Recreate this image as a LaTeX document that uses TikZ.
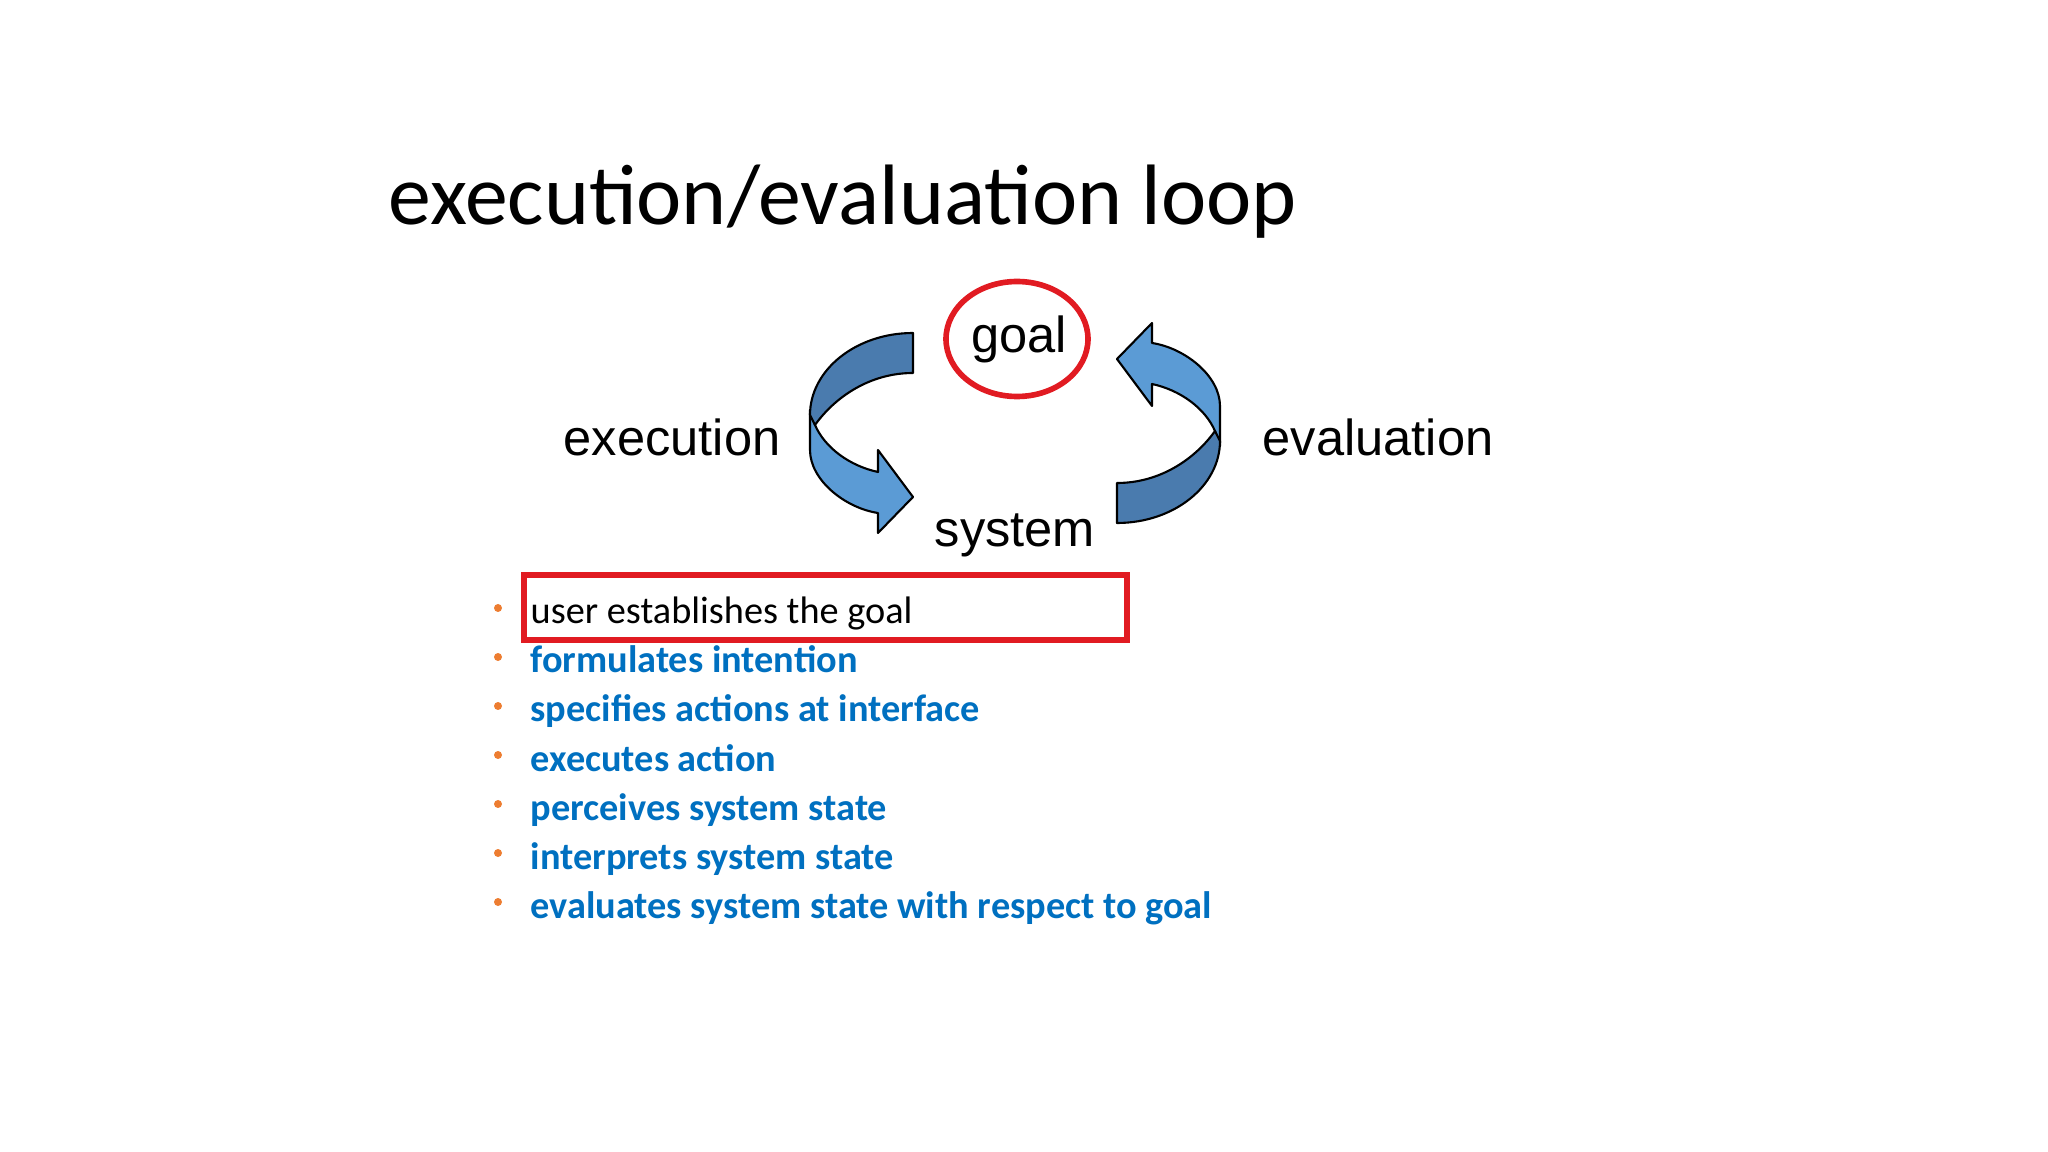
\documentclass[tikz,border=0pt]{standalone}
\usepackage{fontspec}
\setmainfont{Carlito}
\newfontfamily\arialfont{Liberation Sans}
\usetikzlibrary{shapes,positioning}
\definecolor{itemblue}{HTML}{0070C0}
\definecolor{dotorange}{HTML}{ED7D31}
\definecolor{markred}{HTML}{E11B22}
\definecolor{bandlight}{HTML}{5B9BD5}
\definecolor{banddark}{HTML}{4A7BAE}

\begin{document}
\begin{tikzpicture}
[
titlenode/.style={anchor=base west, inner sep=0pt, font=\fontsize{24.4}{29}\selectfont},
labelnode/.style={anchor=base west, inner sep=0pt, font=\arialfont\fontsize{14.4}{17}\selectfont},
goalnode/.style={ellipse, draw=markred, line width=1.6pt, minimum width=1.42cm, minimum height=1.15cm, inner sep=0pt, font=\arialfont\fontsize{14.4}{17}\selectfont},
itemnode/.style={anchor=base west, inner sep=0pt, font=\fontsize{10.9}{13}\selectfont\bfseries, text=itemblue},
dotnode/.style={circle, fill=dotorange, inner sep=0pt, minimum size=0.08cm},
markbox/.style={draw=markred, line width=1.8pt},
lightband/.style={fill=bandlight, draw=black, line width=0.6pt, line join=round},
darkband/.style={fill=banddark, draw=black, line width=0.6pt, line join=round},
]
\useasboundingbox (0,0) rectangle (20.48,-11.52);
%draw the title
\node[titlenode] (title) at (3.88,-2.25) {execution/evaluation loop};
%draw the loop
\node[goalnode] (goal) at (10.17,-3.39) {\hspace*{0.04cm}goal};
\node[labelnode] (execution) at (5.63,-4.56) {execution};
\node[labelnode] (evaluation) at (12.62,-4.56) {evaluation};
\node[labelnode] (system) at (9.34,-5.46) {system};

% left arrow, goal to system
\draw[lightband] (8.10,-4.10) -- (8.10,-4.50) .. controls (8.10,-4.80) and (8.45,-5.08) .. (8.78,-5.13) -- (8.78,-5.33) -- (9.13,-4.97) -- (8.78,-4.50) -- (8.78,-4.72) .. controls (8.50,-4.66) and (8.25,-4.48) .. (8.15,-4.25) -- cycle;
\draw[darkband] (9.13,-3.33) .. controls (8.56,-3.33) and (8.10,-3.70) .. (8.10,-4.15) -- (8.15,-4.25) .. controls (8.35,-3.97) and (8.70,-3.73) .. (9.13,-3.73) -- cycle;
% right arrow, same shape turned round
\begin{scope}[rotate around={180:(10.15,-4.28)}]
\draw[lightband] (8.10,-4.10) -- (8.10,-4.50) .. controls (8.10,-4.80) and (8.45,-5.08) .. (8.78,-5.13) -- (8.78,-5.33) -- (9.13,-4.97) -- (8.78,-4.50) -- (8.78,-4.72) .. controls (8.50,-4.66) and (8.25,-4.48) .. (8.15,-4.25) -- cycle;
\draw[darkband] (9.13,-3.33) .. controls (8.56,-3.33) and (8.10,-3.70) .. (8.10,-4.15) -- (8.15,-4.25) .. controls (8.35,-3.97) and (8.70,-3.73) .. (9.13,-3.73) -- cycle;
\end{scope}

%draw the list
\node[dotnode] (dot1) at (4.98,-6.08) {};
\node[itemnode, text=black, font=\fontsize{10.9}{13}\selectfont] (item1) at (5.30,-6.24) {user establishes the goal};
\draw[markbox] (5.24,-5.75) rectangle (11.27,-6.40);
\node[dotnode] (dot2) at (4.98,-6.57) {};
\node[itemnode] (item2) at (5.30,-6.73) {formulates intention};
\node[dotnode] (dot3) at (4.98,-7.06) {};
\node[itemnode] (item3) at (5.30,-7.22) {specifies actions at interface};
\node[dotnode] (dot4) at (4.98,-7.55) {};
\node[itemnode] (item4) at (5.30,-7.71) {executes action};
\node[dotnode] (dot5) at (4.98,-8.04) {};
\node[itemnode] (item5) at (5.30,-8.20) {perceives system state};
\node[dotnode] (dot6) at (4.98,-8.53) {};
\node[itemnode] (item6) at (5.30,-8.69) {interprets system state};
\node[dotnode] (dot7) at (4.98,-9.02) {};
\node[itemnode] (item7) at (5.30,-9.18) {evaluates system state with respect to goal};
\end{tikzpicture}
\end{document}
